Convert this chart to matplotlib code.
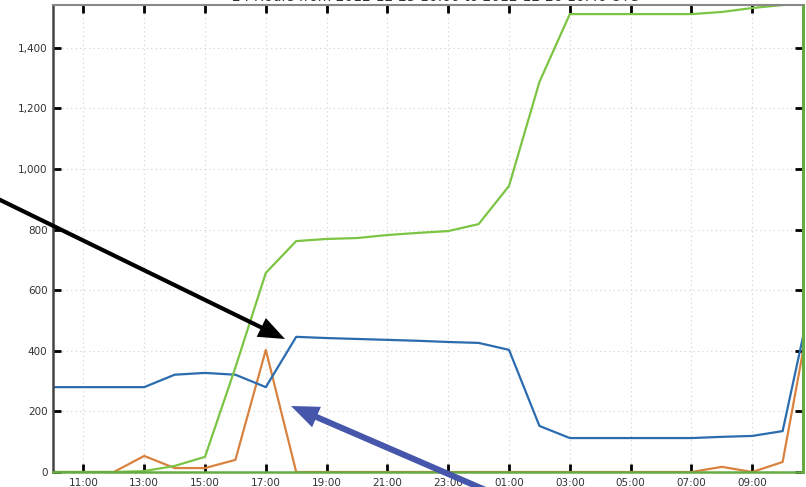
import matplotlib
matplotlib.use("Agg")
import matplotlib.pyplot as plt
from matplotlib.ticker import FuncFormatter

# hours after 10:00 on the first day
hours = [0, 1, 2, 3, 4, 5, 6, 7, 8, 9, 10, 11, 12, 13, 14, 15, 16, 17, 18, 19, 20, 21, 22, 23, 24, 24.67]

blue = [280, 280, 280, 280, 321, 327, 321, 280, 446, 442, 439, 436, 433, 429, 426, 403,
        152, 112, 112, 112, 112, 112, 116, 119, 135, 446]
orange = [0, 0, 0, 53, 13, 13, 40, 403, 0, 0, 0, 0, 0, 0, 0, 0,
          0, 0, 0, 0, 0, 0, 17, 0, 33, 398]
green = [0, 0, 0, 3, 20, 50, 345, 657, 762, 769, 772, 782, 789, 795, 818, 944,
         1287, 1511, 1511, 1511, 1511, 1511, 1518, 1531, 1541, 1548]

tick_hours = [1, 3, 5, 7, 9, 11, 13, 15, 17, 19, 21, 23]
tick_labels = ["11:00", "13:00", "15:00", "17:00", "19:00", "21:00",
               "23:00", "01:00", "03:00", "05:00", "07:00", "09:00"]
y_ticks = [0, 200, 400, 600, 800, 1000, 1200, 1400]

title = "24 Hours from 2012-12-25 10:00 to 2012-12-26 10:40 UTC"

fig = plt.figure(figsize=(8.06, 4.87), dpi=100)
ax = fig.add_axes([53 / 806, 1 - 472 / 487, 750 / 806, 467 / 487])

ax.plot(hours, orange, color="#d9823f", lw=1.6)
ax.plot(hours, blue, color="#2b6cae", lw=1.6)
ax.plot(hours, green, color="#7cc444", lw=1.6)

ax.set_xlim(0, 24.67)
ax.set_ylim(0, 1541)
ax.set_xticks(tick_hours)
ax.set_xticklabels(tick_labels)
ax.set_yticks(y_ticks)
ax.yaxis.set_major_formatter(FuncFormatter(lambda v, p: f"{int(v):,}"))

ax.grid(True, color="#d0d0d0", linestyle=(0, (1, 3)), lw=0.8)
ax.tick_params(direction="in", length=6, width=2, color="black",
               labelsize=7.5, labelcolor="#333333", top=True, right=True, pad=4)

ax.spines["left"].set_color("#444444")
ax.spines["left"].set_linewidth(1.8)
ax.spines["top"].set_color("#888888")
ax.spines["top"].set_linewidth(1.5)
ax.spines["bottom"].set_color("#66aa44")
ax.spines["bottom"].set_linewidth(1.8)
ax.spines["right"].set_color("#66aa44")
ax.spines["right"].set_linewidth(2.2)

# title is mostly cut off at the top edge in the screenshot
fig.text(0.54, 1 - 4 / 487, title, ha="center", va="bottom", fontsize=10, color="#333333")

# annotation arrows, in figure pixels
ax.annotate("", xy=(285, 487 - 339), xytext=(-10, 487 - 195), xycoords="figure pixels",
            textcoords="figure pixels", annotation_clip=False,
            arrowprops=dict(arrowstyle="simple,head_length=0.95,head_width=0.75,tail_width=0.15",
                            fc="black", ec="none", mutation_scale=20, shrinkA=0, shrinkB=0))
ax.annotate("", xy=(291, 487 - 406), xytext=(490, 487 - 492), xycoords="figure pixels",
            textcoords="figure pixels", annotation_clip=False,
            arrowprops=dict(arrowstyle="simple,head_length=1.0,head_width=0.8,tail_width=0.22",
                            fc="#4656aa", ec="none", mutation_scale=20, shrinkA=0, shrinkB=0))

fig.savefig("out.png", dpi=100)
